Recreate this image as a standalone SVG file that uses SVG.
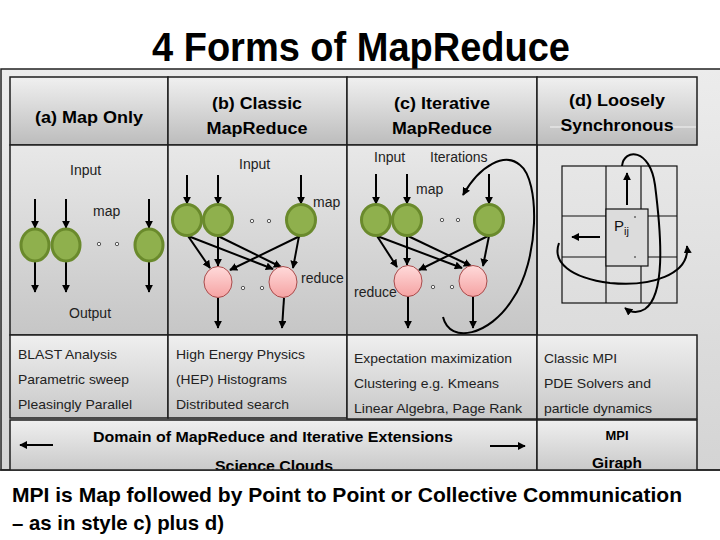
<svg xmlns="http://www.w3.org/2000/svg" width="720" height="540" viewBox="0 0 720 540">
<defs>
<linearGradient id="gOuter" x1="0" y1="0" x2="0" y2="1"><stop offset="0" stop-color="#ececec"/><stop offset="1" stop-color="#d4d4d4"/></linearGradient>
<linearGradient id="gHdr" x1="0" y1="0" x2="0" y2="1"><stop offset="0" stop-color="#f0f0f0"/><stop offset="1" stop-color="#bcbcbc"/></linearGradient>
<linearGradient id="gBody" x1="0" y1="0" x2="0" y2="1"><stop offset="0" stop-color="#e8e8e8"/><stop offset="1" stop-color="#c6c6c6"/></linearGradient>
<linearGradient id="gRow" x1="0" y1="0" x2="0" y2="1"><stop offset="0" stop-color="#efefef"/><stop offset="1" stop-color="#c8c8c8"/></linearGradient>
<linearGradient id="gGrid" x1="0" y1="0" x2="0" y2="1"><stop offset="0" stop-color="#ececec"/><stop offset="1" stop-color="#c4c4c4"/></linearGradient>
<linearGradient id="gPink" x1="0" y1="0" x2="0" y2="1"><stop offset="0" stop-color="#ffdada"/><stop offset="1" stop-color="#f5a3a3"/></linearGradient>
<marker id="ah" viewBox="0 0 10 10" refX="9" refY="5" markerWidth="4" markerHeight="4" orient="auto" markerUnits="strokeWidth"><path d="M0,0 L10,5 L0,10 z" fill="#000"/></marker>
<clipPath id="clipFrame"><rect x="0" y="69" width="720" height="401"/></clipPath>
</defs>
<style>
.title{font-family:"Liberation Sans",Arial,sans-serif;font-weight:bold;fill:#000}
.hdr{font-family:"Liberation Sans",Arial,sans-serif;font-weight:bold;font-size:16px;fill:#000}
.lbl{font-family:"Liberation Sans",Arial,sans-serif;font-size:14px;fill:#222}
.app{font-family:"Liberation Sans",Arial,sans-serif;font-size:13.5px;fill:#222}
.dom{font-family:"Liberation Sans",Arial,sans-serif;font-weight:bold;font-size:15px;fill:#000}
.cell{stroke:#1e1e1e;stroke-width:1.5}
.hdrc{fill:url(#gHdr)}
.bodyc{fill:url(#gBody)}
.rowc{fill:url(#gRow)}
.arr{stroke:#000;stroke-width:2;fill:none;marker-end:url(#ah)}
.map{fill:#8fb04d;stroke:#6a8a2c;stroke-width:3}
.red{fill:url(#gPink);stroke:#a84b4b;stroke-width:1}
.dot{fill:#f4f4f4;stroke:#333;stroke-width:0.8}
.grid{stroke:#111;stroke-width:1.2;fill:none}
</style>

<rect width="720" height="540" fill="#ffffff"/>
<text class="title" x="361" y="61" font-size="40" text-anchor="middle" textLength="418" lengthAdjust="spacingAndGlyphs">4 Forms of MapReduce</text>

<g id="frame">
<rect x="1" y="69" width="730" height="401" fill="url(#gOuter)" stroke="#222" stroke-width="1.5"/>
</g>

<g id="header-a"><rect class="cell hdrc" x="10" y="77" width="158" height="68"/>
<text class="hdr" x="89" y="123" text-anchor="middle" textLength="108" lengthAdjust="spacingAndGlyphs">(a) Map Only</text></g>
<g id="header-b"><rect class="cell hdrc" x="168" y="77" width="179" height="68"/>
<text class="hdr" x="257" y="109" text-anchor="middle" textLength="90" lengthAdjust="spacingAndGlyphs">(b) Classic</text>
<text class="hdr" x="257" y="134" text-anchor="middle" textLength="101" lengthAdjust="spacingAndGlyphs">MapReduce</text></g>
<g id="header-c"><rect class="cell hdrc" x="347" y="77" width="190" height="68"/>
<text class="hdr" x="442" y="109" text-anchor="middle" textLength="96" lengthAdjust="spacingAndGlyphs">(c) Iterative</text>
<text class="hdr" x="442" y="134" text-anchor="middle" textLength="100" lengthAdjust="spacingAndGlyphs">MapReduce</text></g>
<g id="header-d"><rect class="cell hdrc" x="537" y="77" width="160" height="68"/>
<line x1="550" y1="127" x2="696" y2="127" stroke="#f4f4f4" stroke-width="1"/>
<text class="hdr" x="617" y="106" text-anchor="middle" textLength="96" lengthAdjust="spacingAndGlyphs">(d) Loosely</text>
<text class="hdr" x="617" y="131" text-anchor="middle" textLength="113" lengthAdjust="spacingAndGlyphs">Synchronous</text></g>

<g id="body-a"><rect class="cell bodyc" x="10" y="145" width="158" height="190"/>
<text class="lbl" x="70" y="175">Input</text>
<text class="lbl" x="93" y="216">map</text>
<text class="lbl" x="69" y="318">Output</text>
<circle class="dot" cx="99" cy="244" r="1.7"/><circle class="dot" cx="117" cy="244" r="1.7"/></g>
<g id="body-b"><rect class="cell bodyc" x="168" y="145" width="179" height="190"/>
<text class="lbl" x="239" y="169">Input</text>
<text class="lbl" x="313" y="207">map</text>
<text class="lbl" x="301" y="283">reduce</text>
<circle class="dot" cx="252" cy="221" r="1.7"/><circle class="dot" cx="269" cy="221" r="1.7"/>
<circle class="dot" cx="243" cy="288" r="1.7"/><circle class="dot" cx="262" cy="288" r="1.7"/></g>
<g id="body-c"><rect class="cell bodyc" x="347" y="145" width="190" height="190"/>
<text class="lbl" x="374" y="162">Input</text>
<text class="lbl" x="430" y="162">Iterations</text>
<text class="lbl" x="416" y="194">map</text>
<text class="lbl" x="354" y="297">reduce</text>
<circle class="dot" cx="442" cy="220" r="1.7"/><circle class="dot" cx="458" cy="220" r="1.7"/>
<circle class="dot" cx="433" cy="287" r="1.7"/><circle class="dot" cx="452" cy="287" r="1.7"/></g>
<g id="body-d">
<line x1="537" y1="145" x2="537" y2="335" stroke="#1e1e1e" stroke-width="1.5"/>
<rect x="562" y="166" width="115" height="137" fill="url(#gGrid)" class="grid"/>
<line class="grid" x1="606" y1="166" x2="606" y2="303"/>
<line class="grid" x1="641" y1="166" x2="641" y2="303"/>
<line class="grid" x1="562" y1="216" x2="677" y2="216"/>
<line class="grid" x1="562" y1="257" x2="677" y2="257"/>
<rect x="606" y="209" width="42" height="57" fill="#dcdcdc" stroke="#111" stroke-width="1.2"/>
<text x="614" y="231" font-family="Liberation Sans, Arial, sans-serif" font-size="15" fill="#111">P<tspan font-size="11" dy="4">ij</tspan></text>
<circle cx="635" cy="217" r="0.8" fill="#111"/><circle cx="635" cy="257" r="0.8" fill="#111"/>
</g>

<g id="connectors">
<line class="arr" x1="35" y1="199" x2="35" y2="228"/>
<line class="arr" x1="66" y1="199" x2="66" y2="228"/>
<line class="arr" x1="149" y1="199" x2="149" y2="228"/>
<line class="arr" x1="35" y1="262" x2="35" y2="292"/>
<line class="arr" x1="66" y1="262" x2="66" y2="292"/>
<line class="arr" x1="149" y1="262" x2="149" y2="292"/>
<line class="arr" x1="187" y1="175" x2="187" y2="204"/>
<line class="arr" x1="218" y1="175" x2="218" y2="204"/>
<line class="arr" x1="301" y1="175" x2="301" y2="204"/>
<line class="arr" x1="188" y1="236" x2="210" y2="268"/>
<line class="arr" x1="188" y1="236" x2="273" y2="269"/>
<line class="arr" x1="218" y1="236" x2="218" y2="266"/>
<line class="arr" x1="218" y1="236" x2="281" y2="267"/>
<line class="arr" x1="300" y1="236" x2="230" y2="270"/>
<line class="arr" x1="299" y1="236" x2="293" y2="268"/>
<line class="arr" x1="218" y1="298" x2="218" y2="328"/>
<line class="arr" x1="284" y1="298" x2="282" y2="328"/>
<line class="arr" x1="376" y1="174" x2="376" y2="204"/>
<line class="arr" x1="407" y1="174" x2="407" y2="204"/>
<line class="arr" x1="489" y1="174" x2="489" y2="204"/>
<line class="arr" x1="377" y1="236" x2="397" y2="267"/>
<line class="arr" x1="377" y1="236" x2="462" y2="268"/>
<line class="arr" x1="407" y1="236" x2="407" y2="265"/>
<line class="arr" x1="408" y1="236" x2="471" y2="266"/>
<line class="arr" x1="488" y1="236" x2="419" y2="270"/>
<line class="arr" x1="489" y1="236" x2="483" y2="266"/>
<line class="arr" x1="408" y1="297" x2="408" y2="328"/>
<line class="arr" x1="473" y1="297" x2="473" y2="328"/>
<path class="arr" d="M 443 317 C 450 345, 490 335, 512 300 C 540 260, 540 180, 520 165 C 505 152, 480 165, 463 195"/>
<line class="arr" x1="627" y1="205" x2="627" y2="173"/>
<line class="arr" x1="600" y1="237" x2="572" y2="237"/>
<path class="arr" d="M 622 166 C 624 148, 650 148, 655 185 C 662 240, 665 295, 645 309 C 637 314, 630 312, 625 308"/>
<path class="arr" d="M 559 243 C 552 262, 570 278, 610 283 C 650 287, 690 275, 687 246"/>
</g>

<g id="map-a1"><ellipse class="map" cx="35" cy="245" rx="14" ry="16"/></g>
<g id="map-a2"><ellipse class="map" cx="66" cy="245" rx="14" ry="16"/></g>
<g id="map-a3"><ellipse class="map" cx="149" cy="245" rx="14" ry="16"/></g>
<g id="map-b1"><ellipse class="map" cx="187" cy="220" rx="14.5" ry="15.5"/></g>
<g id="map-b2"><ellipse class="map" cx="218" cy="220" rx="14.5" ry="15.5"/></g>
<g id="map-b3"><ellipse class="map" cx="301" cy="220" rx="14.5" ry="15.5"/></g>
<g id="reduce-b1"><ellipse class="red" cx="218" cy="282" rx="14" ry="15.5"/></g>
<g id="reduce-b2"><ellipse class="red" cx="283" cy="282" rx="14" ry="15.5"/></g>
<g id="map-c1"><ellipse class="map" cx="376" cy="220" rx="14.5" ry="15.5"/></g>
<g id="map-c2"><ellipse class="map" cx="407" cy="220" rx="14.5" ry="15.5"/></g>
<g id="map-c3"><ellipse class="map" cx="489" cy="220" rx="14.5" ry="15.5"/></g>
<g id="reduce-c1"><ellipse class="red" cx="408" cy="281" rx="14" ry="15.5"/></g>
<g id="reduce-c2"><ellipse class="red" cx="473" cy="281" rx="14" ry="15.5"/></g>

<g id="apps-a"><rect class="cell rowc" x="10" y="335" width="158" height="83"/>
<text class="app" x="18" y="359" textLength="99" lengthAdjust="spacingAndGlyphs">BLAST Analysis</text>
<text class="app" x="18" y="384" textLength="111" lengthAdjust="spacingAndGlyphs">Parametric sweep</text>
<text class="app" x="18" y="409" textLength="114" lengthAdjust="spacingAndGlyphs">Pleasingly Parallel</text></g>
<g id="apps-b"><rect class="cell rowc" x="168" y="335" width="179" height="83"/>
<text class="app" x="176" y="359" textLength="129" lengthAdjust="spacingAndGlyphs">High Energy Physics</text>
<text class="app" x="176" y="384" textLength="111" lengthAdjust="spacingAndGlyphs">(HEP) Histograms</text>
<text class="app" x="176" y="409" textLength="113" lengthAdjust="spacingAndGlyphs">Distributed search</text></g>
<g id="apps-c"><rect class="cell rowc" x="347" y="335" width="190" height="84"/>
<text class="app" x="354" y="363" textLength="158" lengthAdjust="spacingAndGlyphs">Expectation maximization</text>
<text class="app" x="354" y="388" textLength="145" lengthAdjust="spacingAndGlyphs">Clustering e.g. Kmeans</text>
<text class="app" x="354" y="413" textLength="168" lengthAdjust="spacingAndGlyphs">Linear Algebra, Page Rank</text></g>
<g id="apps-d"><rect class="cell rowc" x="537" y="335" width="160" height="84"/>
<text class="app" x="544" y="363" textLength="73" lengthAdjust="spacingAndGlyphs">Classic MPI</text>
<text class="app" x="544" y="388" textLength="107" lengthAdjust="spacingAndGlyphs">PDE Solvers and</text>
<text class="app" x="544" y="413" textLength="108" lengthAdjust="spacingAndGlyphs">particle dynamics</text></g>

<g id="domain" clip-path="url(#clipFrame)"><rect class="cell rowc" x="10" y="420" width="527" height="52"/>
<text class="dom" x="93" y="442" textLength="360" lengthAdjust="spacingAndGlyphs">Domain of MapReduce and Iterative Extensions</text>
<text class="dom" x="215" y="471" textLength="118" lengthAdjust="spacingAndGlyphs">Science Clouds</text></g>
<g id="mpi" clip-path="url(#clipFrame)"><rect class="cell rowc" x="537" y="420" width="160" height="52"/>
<text class="dom" x="617" y="440" text-anchor="middle" textLength="23" lengthAdjust="spacingAndGlyphs" style="font-size:12px">MPI</text>
<text class="dom" x="617" y="468" text-anchor="middle" textLength="50" lengthAdjust="spacingAndGlyphs">Giraph</text></g>
<line x1="0" y1="470" x2="720" y2="470" stroke="#222" stroke-width="1.5"/>

<g id="domain-connectors">
<line class="arr" x1="53" y1="445" x2="20" y2="445"/>
<line class="arr" x1="490" y1="446" x2="525" y2="446"/>
</g>

<g id="caption">
<text class="title" x="12" y="502" font-size="21" textLength="670" lengthAdjust="spacingAndGlyphs">MPI is Map followed by Point to Point or Collective Communication</text>
<text class="title" x="12" y="530" font-size="21" textLength="212" lengthAdjust="spacingAndGlyphs">– as in style c) plus d)</text>
</g>
</svg>
